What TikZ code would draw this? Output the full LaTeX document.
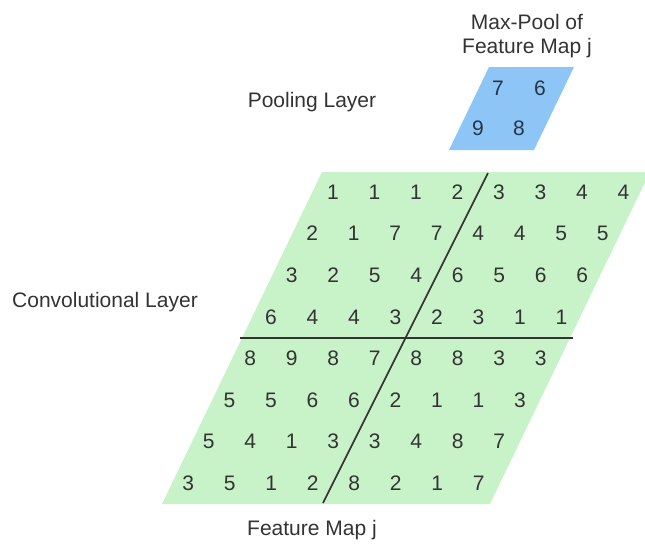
\documentclass[tikz,border=0pt]{standalone}
\usepackage{fontspec}
\setmainfont{Liberation Sans}
\definecolor{fmgreen}{HTML}{C8F2C8}
\definecolor{poolblue}{HTML}{8EC5F7}
\definecolor{txt}{HTML}{333333}
\definecolor{pooltxt}{HTML}{263545}
\begin{document}
\begin{tikzpicture}[x=1pt,y=-1pt,
  lbl/.style={text=txt,font=\fontsize{21}{25}\selectfont,inner sep=0pt,align=center},
  num/.style={text=txt,font=\fontsize{21}{25}\selectfont,inner sep=0pt},
  pnum/.style={text=pooltxt,font=\fontsize{21}{25}\selectfont,inner sep=0pt},
  divider/.style={draw=txt,line width=1.6pt}]
\useasboundingbox (0,0) rectangle (645,544);
% feature map
\coordinate (g1) at (322,172);
\coordinate (g2) at (650,172);
\coordinate (g3) at (490,504);
\coordinate (g4) at (162,504);
\fill[fmgreen] (g1) -- (g2) -- (g3) -- (g4) -- cycle;
% pooled map
\coordinate (b1) at (489,67);
\coordinate (b2) at (574,67);
\coordinate (b3) at (534,150);
\coordinate (b4) at (449,150);
\fill[poolblue] (b1) -- (b2) -- (b3) -- (b4) -- cycle;
% dividers
\coordinate (d1) at (488,173);
\coordinate (d2) at (323,503);
\coordinate (h1) at (240,338);
\coordinate (h2) at (573,338);
\draw[divider] (d1) -- (d2);
\draw[divider] (h1) -- (h2);
% numbers
\foreach \r [count=\i from 0] in {
  {1,1,1,2,3,3,4,4},
  {2,1,7,7,4,4,5,5},
  {3,2,5,4,6,5,6,6},
  {6,4,4,3,2,3,1,1},
  {8,9,8,7,8,8,3,3},
  {5,5,6,6,2,1,1,3},
  {5,4,1,3,3,4,8,7},
  {3,5,1,2,8,2,1,7}}{
  \foreach \v [count=\j from 0] in \r {
    \node[num] (n-\i-\j) at ({333+41.5*\j-20.7*\i},{192+41.6*\i}) {\v};
  }
}
\node[pnum] (p11) at (498,88) {7};
\node[pnum] (p12) at (540,88) {6};
\node[pnum] (p21) at (478,128) {9};
\node[pnum] (p22) at (519,128) {8};
% labels
\node[lbl] (maxpool) at (527,36) {Max-Pool of\\[-1pt]Feature Map j};
\node[lbl] (pooling) at (312,102) {Pooling Layer};
\node[lbl] (conv) at (105,302) {Convolutional Layer};
\node[lbl] (fmap) at (312,530) {Feature Map j};
\end{tikzpicture}
\end{document}
